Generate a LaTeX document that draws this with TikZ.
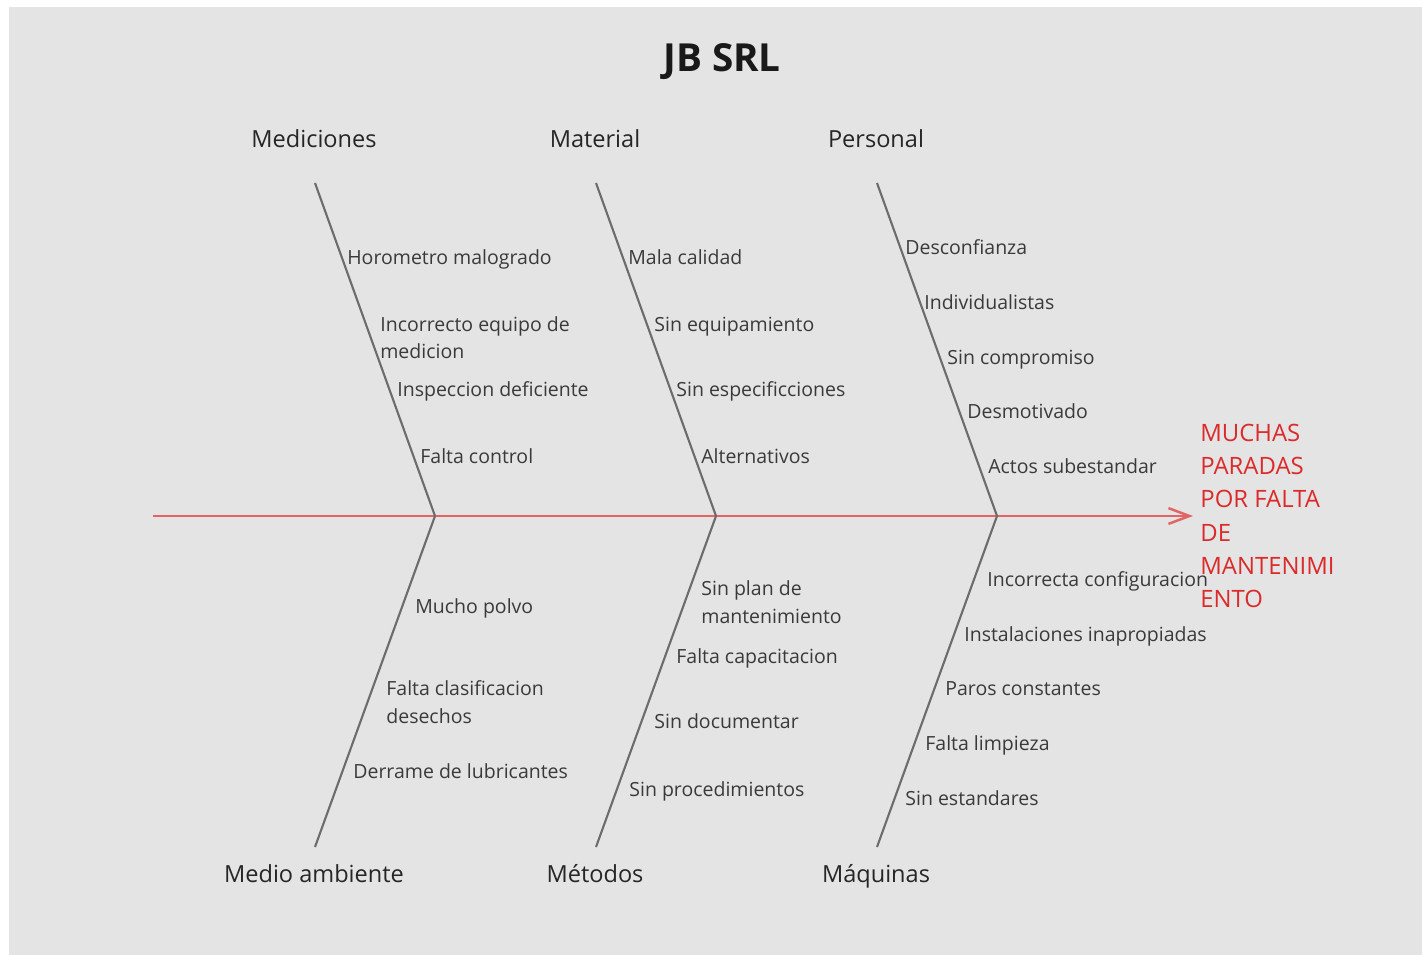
\documentclass[tikz,border=0pt]{standalone}
\usepackage{fontspec}
\setmainfont{Open Sans}
\usepackage{tikz}
\usetikzlibrary{arrows.meta}

\definecolor{fondo}{HTML}{E4E4E4}
\definecolor{espina}{HTML}{E26464}
\definecolor{hueso}{HTML}{6C6C6C}
\definecolor{texto}{HTML}{3A3A3A}
\definecolor{efecto}{HTML}{DC2A2A}

\begin{document}
\begin{tikzpicture}[x=0.02cm,y=-0.02cm,
  causa/.style={anchor=base west,inner sep=0pt,text=texto,align=left,
    font=\fontsize{11.1}{15.4}\selectfont},
  categoria/.style={anchor=base,inner sep=0pt,text=black!85,font=\fontsize{13.4}{16}\selectfont},
  hueso/.style={draw=hueso,line width=1.2pt}]
  \useasboundingbox (0,0) rectangle (1422,955);
  \fill[fondo] (9,7) rectangle (1422,955);

  % Titulo
  \node[anchor=base,text=black!90,font=\bfseries\fontsize{22}{26}\selectfont] (titulo) at (722,72) {JB SRL};

  % Espina principal y efecto
  \coordinate (cola) at (153,516);
  \node[anchor=west,inner xsep=0.14cm,inner ysep=0pt,text=efecto,align=left,
    font=\fontsize{13.6}{19}\selectfont] (efecto) at (1193,516)
    {MUCHAS\\PARADAS\\POR FALTA\\DE\\MANTENIMI\\ENTO};
  \draw[espina,line width=1.4pt,-{Straight Barb[length=12pt,width=9pt]}] (cola) -- (efecto.west);

  % Huesos con sus categorias
  \foreach \n/\x/\cabeza/\pie in {1/435/Mediciones/Medio ambiente,
                                  2/716/Material/Métodos,
                                  3/997/Personal/Máquinas} {
    \coordinate (j\n) at (\x,516);
    \coordinate (a\n) at (\x-120,183);
    \coordinate (b\n) at (\x-120,847);
    \draw[hueso] (a\n) -- (j\n) -- (b\n);
    \node[categoria] (cab\n) at (\x-121,148) {\cabeza};
    \node[categoria] (pie\n) at (\x-121,882) {\pie};
  }

  % Mediciones
  \node[causa] (med1) at (347,265) {Horometro malogrado};
  \node[causa] (med2) at (380,359) {Incorrecto equipo de\\medicion};
  \node[causa] (med3) at (397,397) {Inspeccion deficiente};
  \node[causa] (med4) at (420,464) {Falta control};

  % Material
  \node[causa] (mat1) at (628,265) {Mala calidad};
  \node[causa] (mat2) at (654,332) {Sin equipamiento};
  \node[causa] (mat3) at (676,397) {Sin especificciones};
  \node[causa] (mat4) at (701,464) {Alternativos};

  % Personal
  \node[causa] (per1) at (905,255) {Desconfianza};
  \node[causa] (per2) at (924,310) {Individualistas};
  \node[causa] (per3) at (947,365) {Sin compromiso};
  \node[causa] (per4) at (967,419) {Desmotivado};
  \node[causa] (per5) at (988,474) {Actos subestandar};

  % Medio ambiente
  \node[causa] (amb1) at (415,613) {Mucho polvo};
  \node[causa] (amb2) at (386,723) {Falta clasificacion\\desechos};
  \node[causa] (amb3) at (353,778) {Derrame de lubricantes};

  % Metodos
  \node[causa] (met1) at (701,623) {Sin plan de\\mantenimiento};
  \node[causa] (met2) at (676,663) {Falta capacitacion};
  \node[causa] (met3) at (654,728) {Sin documentar};
  \node[causa] (met4) at (629,796) {Sin procedimientos};

  % Maquinas
  \node[causa] (maq1) at (987,586) {Incorrecta configuracion};
  \node[causa] (maq2) at (964,641) {Instalaciones inapropiadas};
  \node[causa] (maq3) at (945,695) {Paros constantes};
  \node[causa] (maq4) at (925,750) {Falta limpieza};
  \node[causa] (maq5) at (905,805) {Sin estandares};
\end{tikzpicture}
\end{document}
